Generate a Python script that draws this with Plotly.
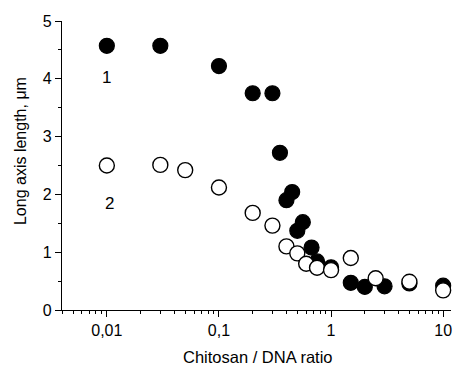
import plotly.graph_objects as go

ratio1 = [0.01, 0.03, 0.1, 0.2, 0.3, 0.35, 0.4, 0.45, 0.5, 0.56, 0.67, 0.75, 1.0, 1.5, 2.0, 3.0, 5.0, 10.0]
length1 = [4.57, 4.57, 4.22, 3.75, 3.75, 2.72, 1.90, 2.04, 1.37, 1.52, 1.08, 0.84, 0.74, 0.47, 0.40, 0.41, 0.46, 0.42]

ratio2 = [0.01, 0.03, 0.05, 0.1, 0.2, 0.3, 0.4, 0.5, 0.6, 0.75, 1.0, 1.5, 2.5, 5.0, 10.0]
length2 = [2.50, 2.51, 2.42, 2.12, 1.68, 1.46, 1.10, 0.98, 0.80, 0.73, 0.69, 0.90, 0.55, 0.49, 0.34]

x_tickvals = [0.01, 0.1, 1, 10]
x_ticktext = ["0,01", "0,1", "1", "10"]
x_minor = [m * d for d in [0.001, 0.01, 0.1, 1, 10] for m in range(2, 10)]
y_tickvals = [0, 1, 2, 3, 4, 5]

x_title = "Chitosan / DNA ratio"
y_title = "Long axis length, μm"

FONT = "Liberation Sans, Arial, sans-serif"

fig = go.Figure()
fig.add_trace(go.Scatter(x=ratio1, y=length1, mode="markers",
                         marker=dict(size=15, color="black", line=dict(color="black", width=1.2)),
                         showlegend=False, cliponaxis=False, hoverinfo="skip"))
fig.add_trace(go.Scatter(x=ratio2, y=length2, mode="markers",
                         marker=dict(size=15, color="white", line=dict(color="black", width=1.4)),
                         showlegend=False, cliponaxis=False, hoverinfo="skip"))

fig.add_annotation(x=-2, y=4.02, xref="x", yref="y", text="1", showarrow=False,
                   font=dict(size=17, color="black", family=FONT))
fig.add_annotation(x=-1.973, y=1.84, xref="x", yref="y", text="2", showarrow=False,
                   font=dict(size=17, color="black", family=FONT))

fig.add_annotation(x=0.503, y=-0.163, xref="paper", yref="paper", text=x_title, showarrow=False,
                   xanchor="center", yanchor="middle", font=dict(size=16.5, color="black", family=FONT))
fig.add_annotation(x=-0.108, y=0.55, xref="paper", yref="paper", text=y_title, showarrow=False,
                   textangle=-90, xanchor="center", yanchor="middle",
                   font=dict(size=16, color="black", family=FONT))

fig.update_layout(
    width=453, height=366,
    margin=dict(l=62, r=2, t=21, b=56),
    paper_bgcolor="white", plot_bgcolor="white",
    font=dict(family=FONT, size=16, color="black"),
    xaxis=dict(type="log", range=[-2.40, 1.07],
               tickvals=x_tickvals, ticktext=x_ticktext,
               ticks="outside", ticklen=6, tickwidth=1, tickcolor="black",
               minor=dict(ticks="outside", ticklen=3, tickvals=x_minor, tickcolor="black", tickwidth=1),
               showline=True, linecolor="black", linewidth=1.3, showgrid=False, zeroline=False,
               tickfont=dict(size=16)),
    yaxis=dict(range=[0, 5], tickvals=y_tickvals,
               ticks="outside", ticklen=6, tickwidth=1, tickcolor="black",
               minor=dict(ticks="outside", ticklen=3, dtick=0.5, tickcolor="black", tickwidth=1),
               showline=True, linecolor="black", linewidth=1.3, showgrid=False, zeroline=False,
               tickfont=dict(size=16)),
)

fig.write_html("out.html", config={"displayModeBar": False},
               post_script="document.body.style.margin='0';document.body.style.overflow='hidden';")
